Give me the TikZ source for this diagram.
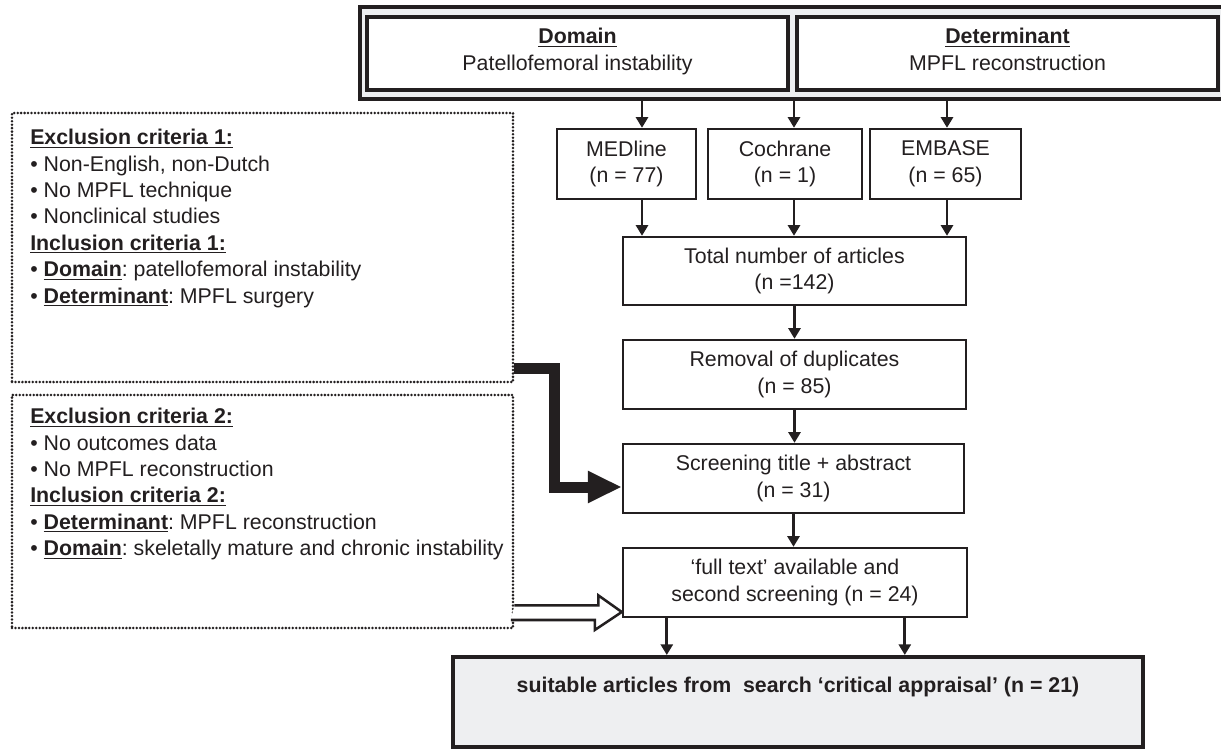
\documentclass[tikz,border=0pt]{standalone}
\usepackage{fontspec}
\setmainfont{Liberation Sans}
\usetikzlibrary{arrows.meta,calc}
\definecolor{ink}{RGB}{35,31,32}
\definecolor{panel}{RGB}{238,239,241}
\newlength\pxu \setlength\pxu{0.75pt}
\frenchspacing
\begin{document}
\begin{tikzpicture}[x=0.75pt,y=-0.75pt,
  every node/.style={font=\fontsize{16}{20}\selectfont, text=ink},
  hbox/.style={draw=ink, fill=white, line width=2.4pt, align=center, inner sep=0pt},
  sbox/.style={draw=ink, fill=white, line width=1.8pt, align=center, inner sep=0pt},
  dotbox/.style={draw=ink, line width=2.1pt, line cap=round, dash pattern=on 0pt off 2.6pt, inner sep=0pt},
  crit/.style={align=left, inner sep=0pt, anchor=north west, font=\fontsize{16}{19.8}\selectfont},
  arr/.style={draw=ink, line width=2.2pt, -{Triangle[length=8pt,width=9pt]}}
]
\useasboundingbox (0,0) rectangle (1221,749);
\fill[white] (0,0) rectangle (1221,749);

% top frame
\node[fill=panel, inner sep=0pt, minimum width=861\pxu, minimum height=91\pxu, anchor=north west] (frame) at (360,7) {};
\draw[ink, line width=3pt] (frame.north east) -- (frame.north west) -- (frame.south west) -- (frame.south east);
\node[hbox, minimum width=421\pxu, minimum height=73\pxu] (domain) at (577.5,53.5) {\underline{\textbf{Domain}}\\Patellofemoral instability\\[-14pt]};
\node[hbox, minimum width=421\pxu, minimum height=73\pxu] (determ) at (1007.5,53.5) {\underline{\textbf{Determinant}}\\MPFL reconstruction\\[-14pt]};

% sources
\node[sbox, minimum width=139\pxu, minimum height=70\pxu] (medline) at (626.5,164) {MEDline\\(n = 77)};
\node[sbox, minimum width=154\pxu, minimum height=70\pxu] (cochrane) at (785,164) {Cochrane\\(n = 1)};
\node[sbox, minimum width=151\pxu, minimum height=70\pxu] (embase) at (945.5,164) {EMBASE\\(n = 65)};

\node[sbox, minimum width=343\pxu, minimum height=68\pxu] (total) at (794.5,271) {Total number of articles\\(n =142)};
\node[sbox, minimum width=343\pxu, minimum height=69\pxu] (removal) at (794.5,374.5) {Removal of duplicates\\(n = 85)};
\node[sbox, minimum width=341\pxu, minimum height=69\pxu] (screening) at (793.5,478.5) {Screening title + abstract\\(n = 31)};
\node[sbox, minimum width=344\pxu, minimum height=69\pxu] (fulltext) at (795,582.5) {‘full text’ available and\\second screening (n = 24)};
\node[draw=ink, fill=panel, line width=3pt, inner sep=0pt, align=center, minimum width=690\pxu, minimum height=90\pxu] (final) at (798,702) {\textbf{suitable articles from~ search ‘critical appraisal’ (n = 21)}\\\strut};

% criteria boxes
\node[dotbox, minimum width=501\pxu, minimum height=269\pxu] (box1) at (262.5,247.5) {};
\node[dotbox, minimum width=501\pxu, minimum height=233\pxu] (box2) at (262.5,511.5) {};
\node[crit] (t1) at (30,129) {\underline{\textbf{Exclusion criteria 1:}}\\
• Non-English, non-Dutch\\
• No MPFL technique\\
• Nonclinical studies\\
\underline{\textbf{Inclusion criteria 1:}}\\
• \underline{\textbf{Domain}}: patellofemoral instability\\
• \underline{\textbf{Determinant}}: MPFL surgery};
\node[crit] (t2) at (30,408) {\underline{\textbf{Exclusion criteria 2:}}\\
• No outcomes data\\
• No MPFL reconstruction\\
\underline{\textbf{Inclusion criteria 2:}}\\
• \underline{\textbf{Determinant}}: MPFL reconstruction\\
• \underline{\textbf{Domain}}: skeletally mature and chronic instability};

% column coordinates
\coordinate (c1) at ($(medline.north)+(15.5,0)$);
\coordinate (c2) at ($(cochrane.north)+(9,0)$);
\coordinate (c3) at ($(embase.north)+(1.5,0)$);
\coordinate (f1) at ($(fulltext.south west)+(45,0)$);
\coordinate (f2) at ($(fulltext.south west)+(283,0)$);

\draw[arr] (c1 |- frame.south) -- (c1);
\draw[arr] (c2 |- frame.south) -- (c2);
\draw[arr] (c3 |- frame.south) -- (c3);
\draw[arr] (c1 |- medline.south) -- (c1 |- total.north);
\draw[arr] (c2 |- cochrane.south) -- (c2 |- total.north);
\draw[arr] (c3 |- embase.south) -- (c3 |- total.north);
\draw[arr] (total.south) -- (removal.north);
\draw[arr] (removal.south) -- (removal.south |- screening.north);
\draw[arr] (screening.south) -- (screening.south |- fulltext.north);
\draw[arr] (f1) -- (f1 |- final.north);
\draw[arr] (f2) -- (f2 |- final.north);

% thick elbow arrow
\coordinate (ta) at ($(box1.south east)+(0,-15)$);
\coordinate (tb) at ($(screening.west)+(0,8.5)$);
\draw[ink, line width=8.25pt, line join=miter, -{Triangle[length=25.5pt,width=22.5pt]}] (ta) -- ++(40,0) |- (tb);

% open arrow
\coordinate (oa) at ($(box2.south east)+(0,-16)$);
\coordinate (ot) at ($(fulltext.west)+(0,29.5)$);
\draw[ink, fill=white, line width=1.9pt, line join=miter] ($(oa)+(0,-8)$) -- ++(84,0) -- ++(0,-10) -- (ot) -- ++(-27,18) -- ++(0,-10) -- ++(-84,0);
\end{tikzpicture}
\end{document}
